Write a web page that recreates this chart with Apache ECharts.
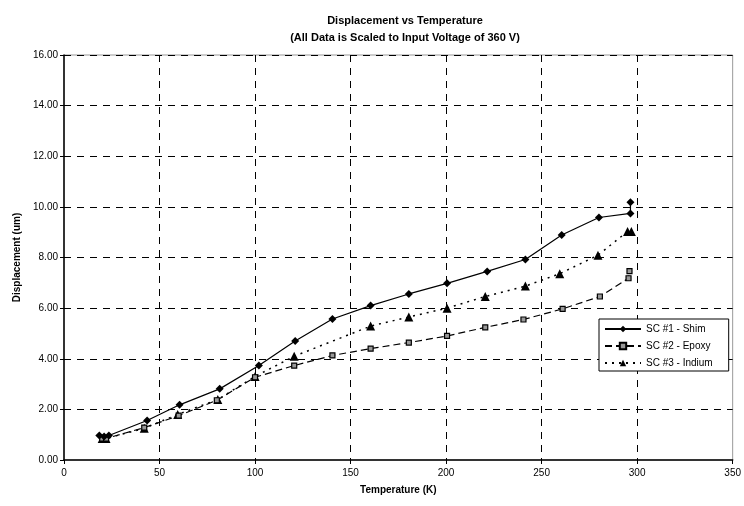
<!DOCTYPE html>
<html>
<head>
<meta charset="utf-8">
<script src="https://cdn.jsdelivr.net/npm/echarts@6/dist/echarts.min.js"></script>
<style>
html,body{margin:0;padding:0;background:#fff;}
#chart{width:744px;height:506px;}
</style>
</head>
<body>
<div id="chart"></div>
<script>
// values
var shimT = [18.5, 21, 23.5, 43.5, 60.5, 81.5, 102, 121, 140.5, 160.5, 180.5, 200.5, 221.5, 241.5, 260.5, 280, 296.5, 296.5];
var shimY = [0.97, 0.93, 0.97, 1.56, 2.18, 2.81, 3.73, 4.70, 5.57, 6.10, 6.56, 6.98, 7.45, 7.92, 8.89, 9.58, 9.74, 10.18];

var epoxyT = [20, 22, 42, 60, 80, 100, 120.5, 140.5, 160.5, 180.5, 200.5, 220.5, 240.5, 261, 280.5, 295.5, 296];
var epoxyY = [0.85, 0.85, 1.28, 1.75, 2.36, 3.27, 3.73, 4.13, 4.40, 4.64, 4.90, 5.24, 5.55, 5.97, 6.46, 7.18, 7.46];

var indiumT = [20, 22, 42, 59.5, 80.5, 100, 120.5, 160.5, 180.5, 200.5, 220.5, 241.5, 259.5, 279.5, 295, 297];
var indiumY = [0.85, 0.85, 1.25, 1.80, 2.39, 3.30, 4.10, 5.29, 5.65, 6.00, 6.46, 6.87, 7.36, 8.09, 9.03, 9.03];

var seriesNames = ['SC #1 - Shim', 'SC #2 - Epoxy', 'SC #3 - Indium'];

function pairs(t, y) {
    var out = [];
    for (var i = 0; i < t.length; i++) out.push([t[i], y[i]]);
    return out;
}

var font = 'Liberation Sans, Arial, sans-serif';
var chart = echarts.init(document.getElementById('chart'));
var gridLine = {show: true, lineStyle: {color: '#000', type: [7, 6], width: 1}};

var option = {
    animation: false,
    backgroundColor: '#fff',
    title: {
        text: 'Displacement vs Temperature\n(All Data is Scaled to Input Voltage of 360 V)',
        left: 400,
        textAlign: 'center',
        top: 7,
        textStyle: {fontFamily: font, fontSize: 11, fontWeight: 'bold', color: '#000', lineHeight: 17}
    },
    legend: {
        data: seriesNames,
        orient: 'vertical',
        left: 599,
        top: 319,
        itemWidth: 36,
        itemHeight: 8,
        itemGap: 7,
        padding: [5, 16, 3, 5],
        borderColor: '#000',
        borderWidth: 1,
        backgroundColor: '#fff',
        textStyle: {fontFamily: font, fontSize: 10, color: '#000'}
    },
    grid: {
        left: 64,
        right: 8,
        top: 55,
        bottom: 46,
        show: true,
        borderColor: '#999',
        borderWidth: 1
    },
    xAxis: {
        type: 'value',
        min: 0,
        max: 350,
        interval: 50,
        name: 'Temperature (K)',
        nameLocation: 'middle',
        nameGap: 25,
        nameTextStyle: {fontFamily: font, fontSize: 10, fontWeight: 'bold', color: '#000'},
        axisLine: {show: true, lineStyle: {color: '#000', width: 1.5}},
        axisTick: {show: true, length: 4, lineStyle: {color: '#000'}},
        axisLabel: {fontFamily: font, fontSize: 10, color: '#000', margin: 8},
        splitLine: Object.assign({showMinLine: false, showMaxLine: false}, gridLine)
    },
    yAxis: {
        type: 'value',
        min: 0,
        max: 16,
        interval: 2,
        name: 'Displacement (um)',
        nameLocation: 'middle',
        nameGap: 42,
        nameTextStyle: {fontFamily: font, fontSize: 10, fontWeight: 'bold', color: '#000'},
        axisLine: {show: true, lineStyle: {color: '#000', width: 1.5}},
        axisTick: {show: true, length: 4, lineStyle: {color: '#000'}},
        axisLabel: {fontFamily: font, fontSize: 10, color: '#000', margin: 6,
            formatter: function (v) { return v.toFixed(2); }},
        splitLine: Object.assign({showMinLine: false, showMaxLine: true}, gridLine)
    },
    series: [
        {
            name: seriesNames[0],
            type: 'line',
            data: pairs(shimT, shimY),
            symbol: 'diamond',
            symbolSize: 8,
            lineStyle: {color: '#000', width: 1.2},
            itemStyle: {color: '#000'},
            z: 5
        }, {
            name: seriesNames[1],
            type: 'line',
            data: pairs(epoxyT, epoxyY),
            symbol: 'rect',
            symbolSize: 5,
            lineStyle: {color: '#000', width: 1.2, type: [7, 4]},
            itemStyle: {color: '#999', borderColor: '#000', borderWidth: 1.2},
            z: 4
        }, {
            name: seriesNames[2],
            type: 'line',
            data: pairs(indiumT, indiumY),
            symbol: 'triangle',
            symbolSize: 9,
            lineStyle: {color: '#000', width: 1.5, type: [2, 5]},
            itemStyle: {color: '#000'},
            z: 3
        }
    ]
};
chart.setOption(option);
</script>
</body>
</html>
